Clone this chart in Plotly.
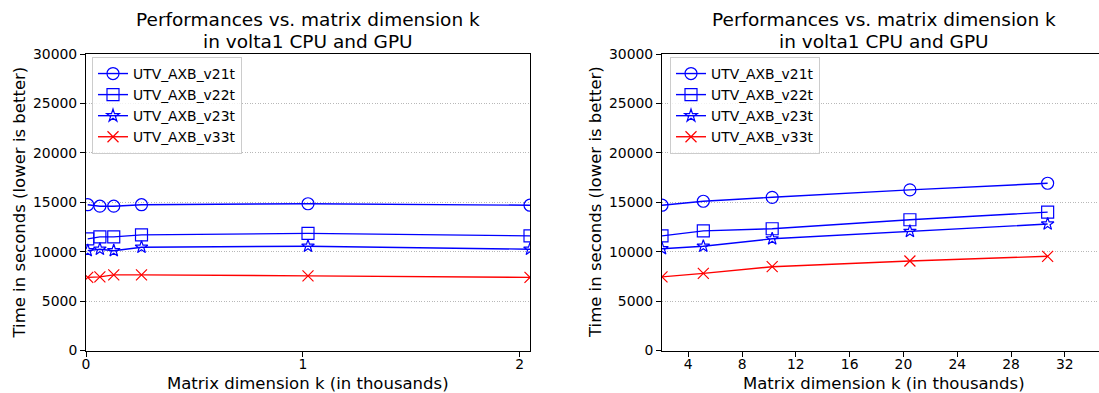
import plotly.graph_objects as go

# ---------------- data ----------------
k_left = [0.008, 0.064, 0.128, 0.256, 1.024, 2.048]
left_v21t = [14750, 14600, 14600, 14750, 14850, 14700]
left_v22t = [11300, 11500, 11500, 11700, 11850, 11600]
left_v23t = [10100, 10250, 10100, 10450, 10550, 10250]
left_v33t = [7400, 7450, 7650, 7650, 7550, 7400]

k_right = [2.048, 5.12, 10.24, 20.48, 30.72]
right_v21t = [14700, 15100, 15500, 16250, 16920]
right_v22t = [11600, 12100, 12320, 13230, 14000]
right_v23t = [10300, 10550, 11300, 12050, 12800]
right_v33t = [7450, 7800, 8480, 9060, 9530]

series_names = ["UTV_AXB_v21t", "UTV_AXB_v22t", "UTV_AXB_v23t", "UTV_AXB_v33t"]
series_colors = ["#0000ff", "#0000ff", "#0000ff", "#ff0000"]
series_symbols = ["circle-open", "square-open", "star-open", "x-thin-open"]
series_sizes = [12, 12, 9.5, 11]

title_line1 = "Performances vs. matrix dimension k"
title_line2 = "in volta1 CPU and GPU"
xlabel = "Matrix dimension k (in thousands)"
ylabel = "Time in seconds (lower is better)"
y_ticks = [0, 5000, 10000, 15000, 20000, 25000, 30000]
left_xticks = [0, 1, 2]
right_xticks = [4, 8, 12, 16, 20, 24, 28, 32]

W, H = 1099, 393
FONT = "DejaVu Sans"

fig = go.Figure()

left_data = [left_v21t, left_v22t, left_v23t, left_v33t]
right_data = [right_v21t, right_v22t, right_v23t, right_v33t]

for i, name in enumerate(series_names):
    fig.add_trace(go.Scatter(
        x=k_left, y=left_data[i], name=name, mode="lines+markers",
        xaxis="x", yaxis="y", legend="legend",
        line=dict(color=series_colors[i], width=1.4),
        marker=dict(symbol=series_symbols[i], size=series_sizes[i],
                    color=series_colors[i],
                    line=dict(color=series_colors[i], width=1.2)),
    ))
for i, name in enumerate(series_names):
    fig.add_trace(go.Scatter(
        x=k_right, y=right_data[i], name=name, mode="lines+markers",
        xaxis="x2", yaxis="y2", legend="legend2",
        line=dict(color=series_colors[i], width=1.4),
        marker=dict(symbol=series_symbols[i], size=series_sizes[i],
                    color=series_colors[i],
                    line=dict(color=series_colors[i], width=1.2)),
    ))

# pixel geometry
L_x0, L_x1 = 86, 530
R_x0 = 662
y_top, y_bot = 54, 350.5
px_per_unit_right = 13.45
right_range_max = k_right[0] + (W - R_x0) / px_per_unit_right

ydom = [1 - y_bot / H, 1 - y_top / H]

axis_common = dict(
    showline=True, linecolor="#000000", linewidth=1,
    ticks="outside", ticklen=5, tickwidth=1, tickcolor="#000000",
    tickfont=dict(family=FONT, size=13.9, color="#000000"),
    zeroline=False, automargin=False,
)
grid_common = dict(showgrid=True, gridcolor="#b8b8b8", griddash="1px,1.6px", gridwidth=0.8)

legend_common = dict(
    xanchor="left", yanchor="top",
    bgcolor="rgba(255,255,255,0.8)", bordercolor="#cccccc", borderwidth=1,
    font=dict(family=FONT, size=13.9, color="#000000"),
    itemsizing="trace", tracegroupgap=0,
)

fig.update_layout(
    template="none",
    width=W, height=H,
    margin=dict(l=0, r=0, t=0, b=0, autoexpand=False),
    paper_bgcolor="white", plot_bgcolor="white",
    font=dict(family=FONT, color="#000000"),
    xaxis=dict(domain=[L_x0 / W, L_x1 / W], range=[0, k_left[-1]],
               tickvals=left_xticks, showgrid=False, mirror=True, anchor="y",
               ticklabelstandoff=-4, **axis_common),
    yaxis=dict(domain=ydom, range=[0, 30000], tickvals=y_ticks, tickformat="d",
               mirror=True, anchor="x", **grid_common, **axis_common),
    xaxis2=dict(domain=[R_x0 / W, 1.0], range=[k_right[0], right_range_max],
                tickvals=right_xticks, showgrid=False, mirror=True, anchor="y2",
                ticklabelstandoff=-4, **axis_common),
    yaxis2=dict(domain=ydom, range=[0, 30000], tickvals=y_ticks, tickformat="d",
                mirror=False, anchor="x2", **grid_common, **axis_common),
    legend=dict(x=92 / W, y=1 - 57 / H, **legend_common),
    legend2=dict(x=670 / W, y=1 - 57 / H, **legend_common),
    showlegend=True,
)

annos = []
for cx, ylab_x in [((L_x0 + L_x1) / 2, 19), ((R_x0 + 1106) / 2, 595.5)]:
    annos.append(dict(text=title_line1, x=cx / W, y=1 - 19.5 / H, xref="paper", yref="paper",
                      xanchor="center", yanchor="middle", showarrow=False,
                      font=dict(family=FONT, size=18.5, color="#000000")))
    annos.append(dict(text=title_line2, x=cx / W, y=1 - 41.5 / H, xref="paper", yref="paper",
                      xanchor="center", yanchor="middle", showarrow=False,
                      font=dict(family=FONT, size=18.5, color="#000000")))
    annos.append(dict(text=xlabel, x=cx / W, y=1 - 383.5 / H, xref="paper", yref="paper",
                      xanchor="center", yanchor="middle", showarrow=False,
                      font=dict(family=FONT, size=16.5, color="#000000")))
    annos.append(dict(text=ylabel, x=ylab_x / W, y=1 - 202.5 / H, xref="paper", yref="paper",
                      xanchor="center", yanchor="middle", showarrow=False, textangle=-90,
                      font=dict(family=FONT, size=16.5, color="#000000")))
fig.update_layout(annotations=annos)

fig.write_html(
    "out.html",
    post_script="document.body.style.margin='0';document.body.style.padding='0';"
                "document.documentElement.style.overflow='hidden';",
)
